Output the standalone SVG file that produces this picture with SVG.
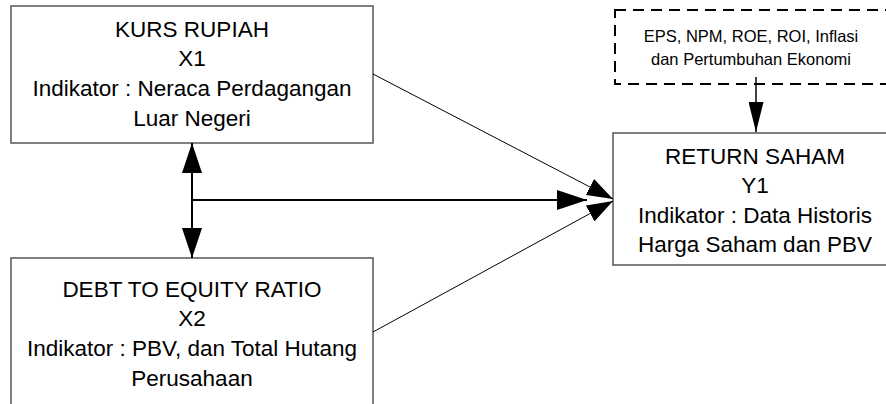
<svg xmlns="http://www.w3.org/2000/svg" width="886" height="404" viewBox="0 0 886 404">
<style>
.box{fill:#fff;stroke:#555;stroke-width:1.5}
.dash{fill:#fff;stroke:#000;stroke-width:2;stroke-dasharray:11 7}
.t{font-family:"Liberation Sans",Arial,sans-serif;font-size:22.5px;fill:#000;text-anchor:middle}
.s{font-family:"Liberation Sans",Arial,sans-serif;font-size:16.5px;fill:#000;text-anchor:middle}
.thin{stroke:#000;stroke-width:1;fill:none}
.thick{stroke:#000;stroke-width:2;fill:none}
</style>
<defs>
<marker id="ab" viewBox="0 0 30 20" refX="30" refY="10" markerWidth="30" markerHeight="20" markerUnits="userSpaceOnUse" orient="auto-start-reverse">
<path d="M0,0 L30,10 L0,20 Z" fill="#000"/>
</marker>
<marker id="as" viewBox="0 0 26 18" refX="26" refY="9" markerWidth="26" markerHeight="18" markerUnits="userSpaceOnUse" orient="auto">
<path d="M0,0 L26,9 L0,18 Z" fill="#000"/>
</marker>
<marker id="ad" viewBox="0 0 30 15" refX="30" refY="7.5" markerWidth="30" markerHeight="15" markerUnits="userSpaceOnUse" orient="auto">
<path d="M0,0 L30,7.5 L0,15 Z" fill="#000"/>
</marker>
</defs>
<g id="kurs">
<rect class="box" x="11" y="6" width="362" height="137"/>
<text class="t" x="192" y="37">KURS RUPIAH</text>
<text class="t" x="192" y="66">X1</text>
<text class="t" x="192" y="96">Indikator : Neraca Perdagangan</text>
<text class="t" x="192" y="126">Luar Negeri</text>
</g>
<g id="der">
<rect class="box" x="11" y="258" width="362" height="160"/>
<text class="t" x="192" y="297">DEBT TO EQUITY RATIO</text>
<text class="t" x="192" y="326">X2</text>
<text class="t" x="192" y="356">Indikator : PBV, dan Total Hutang</text>
<text class="t" x="192" y="386">Perusahaan</text>
</g>
<g id="return">
<rect class="box" x="613" y="133" width="284" height="132"/>
<text class="t" x="755" y="164">RETURN SAHAM</text>
<text class="t" x="755" y="193">Y1</text>
<text class="t" x="755" y="223">Indikator : Data Historis</text>
<text class="t" x="755" y="252">Harga Saham dan PBV</text>
</g>
<g id="faktor">
<rect class="dash" x="615" y="10" width="290" height="74"/>
<text class="s" x="751" y="42">EPS, NPM, ROE, ROI, Inflasi</text>
<text class="s" x="751" y="65">dan Pertumbuhan Ekonomi</text>
</g>
<g id="connectors">
<line class="thick" x1="192" y1="200" x2="192" y2="143" marker-end="url(#ab)"/>
<line class="thick" x1="192" y1="200" x2="192" y2="258" marker-end="url(#ab)"/>
<line class="thick" x1="192" y1="200" x2="587" y2="200" marker-end="url(#ab)"/>
<line class="thin" x1="373" y1="74" x2="613" y2="199" marker-end="url(#as)"/>
<line class="thin" x1="373" y1="332" x2="613" y2="201" marker-end="url(#as)"/>
<line class="thin" style="stroke-width:1.5" x1="756" y1="77" x2="756" y2="132" marker-end="url(#ad)"/>
</g>
</svg>
